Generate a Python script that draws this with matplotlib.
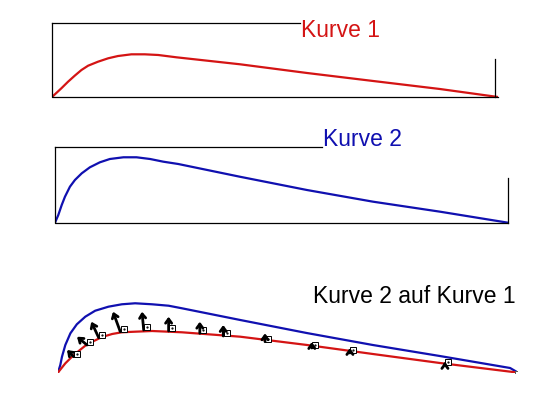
import matplotlib
matplotlib.use("Agg")
import matplotlib.pyplot as plt

plt.rcParams["font.family"] = ["Liberation Sans", "DejaVu Sans"]

# chord position in % and height in chord-% units
k1_x = [0, 2.1, 3.6, 5.1, 6.6, 8.1, 10.3, 12.6, 14.8, 17.8, 20.8, 23.8, 27.9,
        42.2, 57.2, 72.0, 87.0, 100]
k1_y = [0, 1.95, 3.43, 4.78, 6.05, 7.02, 7.91, 8.68, 9.19, 9.57, 9.57, 9.42, 8.9,
        7.33, 5.38, 3.59, 1.79, 0]

k2_x = [0, 0.73, 1.48, 2.2, 3.3, 4.4, 5.9, 7.7, 9.9, 12.1, 15.1, 18.0, 21.0, 23.9,
        27.2, 40.8, 55.6, 70.2, 85.0, 100]
k2_y = [0, 1.7, 3.9, 5.74, 7.95, 9.43, 10.9, 12.23, 13.33, 14.06, 14.44, 14.44,
        14.06, 13.47, 12.96, 10.15, 7.22, 4.64, 2.43, 0]

# combined: Kurve 2 laid on Kurve 1
kom_red_x = [0, 1.6, 3.05, 4.5, 5.95, 7.8, 9.6, 11.8, 13.9, 16.8, 20.5, 24.1, 27.0,
             39.7, 54.2, 68.6, 83.2, 100]
kom_red_y = [0, 2.0, 3.44, 4.68, 5.84, 6.86, 7.73, 8.39, 8.76, 8.89, 9.04, 8.89, 8.76,
             7.8, 6.0, 4.03, 2.07, 0]
kom_blue_x = [0, 0.5, 0.87, 1.6, 2.7, 4.1, 5.95, 8.1, 11.0, 13.9, 16.8, 20.5, 24.1,
              27.0, 39.7, 54.2, 68.6, 83.2, 98.5, 100]
kom_blue_y = [0, 1.63, 3.44, 6.0, 8.54, 10.5, 12.16, 13.46, 14.34, 14.86, 15.08,
              14.86, 14.55, 13.99, 11.44, 8.6, 5.99, 3.59, 0.98, 0.1]

# normal arrows (base -> tip)
arr_x0 = [3.42, 6.32, 8.87, 13.57, 18.67, 24.1, 30.9, 36.0, 45.1, 55.3, 63.6, 84.3]
arr_y0 = [3.44, 5.99, 7.58, 8.89, 9.26, 9.04, 8.54, 7.95, 6.71, 5.34, 4.25, 1.63]
arr_x1 = [1.96, 4.14, 7.25, 11.98, 18.3, 24.1, 30.9, 36.0, 45.1, 55.3, 63.6, 84.3]
arr_y1 = [4.9, 7.8, 11.07, 13.25, 13.25, 12.16, 11.07, 10.35, 8.54, 6.64, 5.34, 2.3]

W, H = 559, 404
fig = plt.figure(figsize=(W / 100, H / 100), dpi=100)


def px_axes(x0, x1, ytop, ybot):
    return fig.add_axes([x0 / W, (H - ybot) / H, (x1 - x0) / W, (ybot - ytop) / H])


red = "#d41414"
blue = "#1010b0"
box = dict(color="black", lw=0.9, clip_on=False)

# panel 1
ax1 = px_axes(52, 498, 23, 97)
ax1.plot(k1_x, k1_y, color=red, lw=1.6)
ax1.set_xlim(0, 100)
ax1.set_ylim(0, 74 / 4.46)
ax1.axis("off")
ax1.plot([0, 0, 1], [1, 0, 0], transform=ax1.transAxes, **box)
ax1.plot([0, 0.556], [1, 1], transform=ax1.transAxes, **box)
ax1.plot([0.993, 0.993], [0, 0.51], transform=ax1.transAxes, **box)
ax1.text(0.558, 0.81, "Kurve 1", color=red, fontsize=16.5, transform=ax1.transAxes,
         ha="left", va="baseline")

# panel 2
ax2 = px_axes(55, 508, 147, 222.7)
ax2.plot(k2_x, k2_y, color=blue, lw=1.6)
ax2.set_xlim(0, 100)
ax2.set_ylim(0, 75.7 / 4.53)
ax2.axis("off")
ax2.plot([0, 0, 1], [1, 0, 0], transform=ax2.transAxes, **box)
ax2.plot([0, 0.59], [1, 1], transform=ax2.transAxes, **box)
ax2.plot([1, 1], [0, 0.59], transform=ax2.transAxes, **box)
ax2.text(0.592, 1.013, "Kurve 2", color=blue, fontsize=16.5, transform=ax2.transAxes,
         ha="left", va="baseline")

# panel 3
ax3 = px_axes(58, 517, 282, 372.5)
ax3.plot(kom_blue_x, kom_blue_y, color=blue, lw=1.6)
ax3.plot(kom_red_x, kom_red_y, color=red, lw=1.6)
ax3.set_xlim(0, 100)
ax3.set_ylim(0, 90.5 / 4.59)
ax3.axis("off")
for x0, y0, x1, y1 in zip(arr_x0, arr_y0, arr_x1, arr_y1):
    ax3.plot(x0 + 0.75, y0 + 0.65, marker="s", ms=4.2, mfc="white", mec="black", mew=0.7)
    ax3.plot(x0 + 0.75, y0 + 0.65, marker=".", ms=1.2, color="black")
    ax3.annotate("", xy=(x1, y1), xytext=(x0, y0),
                 arrowprops=dict(arrowstyle="->,head_length=0.3,head_width=0.22",
                                 color="black", lw=2.0, shrinkA=0, shrinkB=0))
ax3.plot(100, 0, marker="s", ms=3, mfc="white", mec="#555555", mew=0.7)
ax3.text(0.556, 0.768, "Kurve 2 auf Kurve 1", color="black", fontsize=16.5,
         transform=ax3.transAxes, ha="left", va="baseline")

fig.savefig("out.png", dpi=100, facecolor="white")
